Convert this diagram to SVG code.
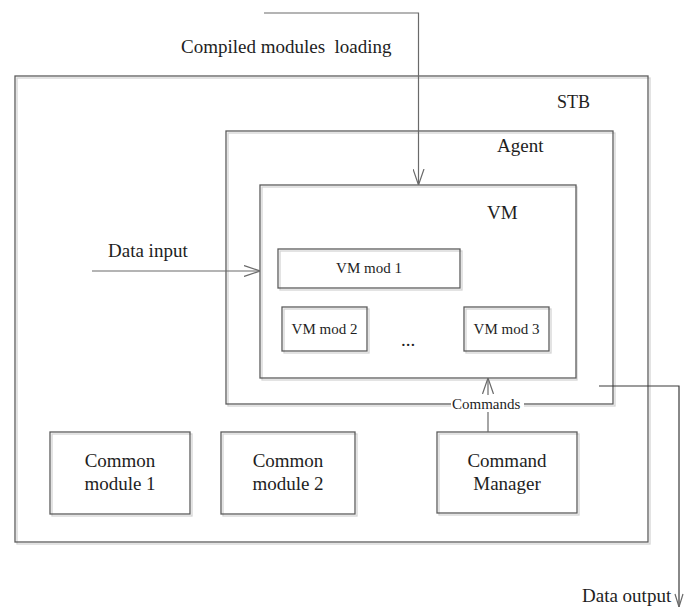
<svg xmlns="http://www.w3.org/2000/svg" width="693" height="607" viewBox="0 0 693 607">
  <style>
    .box { fill: none; stroke: #5c5c5c; stroke-width: 1.3; }
    .shadow { fill: none; stroke: #d4d4d4; stroke-width: 1.3; }
    .wire { fill: none; stroke: #6a6a6a; stroke-width: 1.2; }
    .wire-dark { fill: none; stroke: #3a3a3a; stroke-width: 1.2; }
    text { font-family: "Liberation Serif", "Times New Roman", serif; fill: #1e1e1e; }
    .t19 { font-size: 19px; }
    .t18 { font-size: 18px; }
    .t15 { font-size: 15px; }
    .mid { text-anchor: middle; }
  </style>
  <defs>
    <marker id="open-arrow" viewBox="0 0 16 12" refX="16" refY="6" markerWidth="16" markerHeight="12" markerUnits="userSpaceOnUse" orient="auto">
      <path d="M0,0.5 L16,6 L0,11.5" fill="none" stroke="#6a6a6a" stroke-width="1.2"/>
    </marker>
  </defs>

  <rect width="693" height="607" fill="#ffffff"/>

  <!-- set-top box container -->
  <g id="stb">
    <rect class="shadow" x="17" y="78" width="633" height="466"/>
    <rect class="box" x="15" y="76" width="633" height="466" fill="#ffffff"/>
    <text class="t18" x="557" y="108">STB</text>
  </g>

  <g id="agent">
    <rect class="shadow" x="228" y="133" width="387" height="273"/>
    <rect class="box" x="226" y="131" width="387" height="273" fill="#ffffff"/>
    <text class="t19" x="497" y="152">Agent</text>
  </g>

  <g id="vm">
    <rect class="shadow" x="262" y="187" width="315" height="193"/>
    <rect class="box" x="260" y="185" width="316" height="193" fill="#ffffff"/>
    <text class="t19" x="487" y="219">VM</text>
  </g>

  <g id="vm-mod-1">
    <rect class="shadow" x="280" y="251" width="182" height="39"/>
    <rect class="box" x="278" y="249" width="182" height="39" fill="#ffffff"/>
    <text class="t15 mid" x="369" y="273">VM mod 1</text>
  </g>

  <g id="vm-mod-2">
    <rect class="shadow" x="284" y="309" width="85" height="44"/>
    <rect class="box" x="282" y="307" width="85" height="44" fill="#ffffff"/>
    <text class="t15 mid" x="324.5" y="334">VM mod 2</text>
  </g>

  <text class="t19 mid" x="408" y="346">...</text>

  <g id="vm-mod-3">
    <rect class="shadow" x="466" y="309" width="85" height="44"/>
    <rect class="box" x="464" y="307" width="85" height="44" fill="#ffffff"/>
    <text class="t15 mid" x="506.5" y="334">VM mod 3</text>
  </g>

  <g id="common-module-1">
    <rect class="shadow" x="52" y="434" width="140" height="82"/>
    <rect class="box" x="50" y="432" width="140" height="82" fill="#ffffff"/>
    <text class="t19 mid" x="120" y="467">Common</text>
    <text class="t19 mid" x="120" y="490">module 1</text>
  </g>

  <g id="common-module-2">
    <rect class="shadow" x="223" y="434" width="134" height="82"/>
    <rect class="box" x="221" y="432" width="134" height="82" fill="#ffffff"/>
    <text class="t19 mid" x="288" y="467">Common</text>
    <text class="t19 mid" x="288" y="490">module 2</text>
  </g>

  <g id="command-manager">
    <rect class="shadow" x="439" y="434" width="140" height="81"/>
    <rect class="box" x="437" y="432" width="140" height="81" fill="#ffffff"/>
    <text class="t19 mid" x="507" y="467">Command</text>
    <text class="t19 mid" x="507" y="490">Manager</text>
  </g>

  <!-- flows between the blocks -->
  <g id="connectors">
    <!-- compiled modules coming in from above -->
    <polyline class="wire" points="264,13 418.5,13 418.5,185" marker-end="url(#open-arrow)"/>
    <text class="t19" x="181" y="53" xml:space="preserve">Compiled modules  loading</text>

    <!-- data input into the VM -->
    <line class="wire" x1="92" y1="271" x2="260" y2="271" marker-end="url(#open-arrow)"/>
    <text class="t19" x="108" y="257">Data input</text>

    <!-- commands from the manager up to the VM -->
    <line class="wire" x1="488" y1="432" x2="488" y2="378" marker-end="url(#open-arrow)"/>
    <rect x="451" y="395" width="73" height="17" fill="#ffffff"/>
    <text class="t15" x="452" y="409">Commands</text>

    <!-- data output leaving the box -->
    <polyline class="wire-dark" points="599,386 679,386 679,607"/>
    <path d="M675,594 L679,607 L683,594" fill="none" stroke="#6a6a6a" stroke-width="1.2"/>
    <text class="t19" x="582" y="602">Data output</text>
  </g>
</svg>
